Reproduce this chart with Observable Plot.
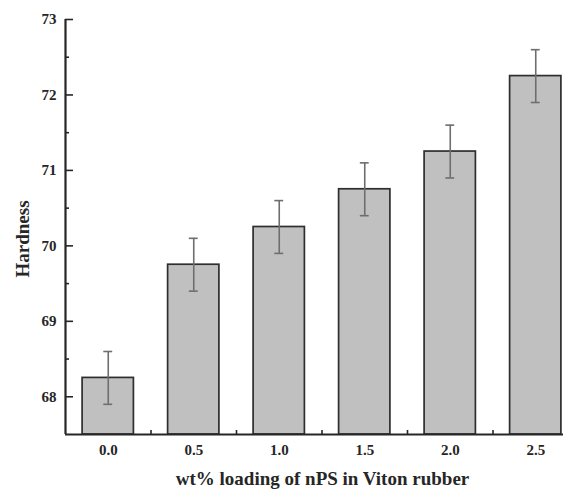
<!DOCTYPE html>
<html><head><meta charset="utf-8">
<script src="https://cdn.jsdelivr.net/npm/d3@7"></script>
<script src="https://cdn.jsdelivr.net/npm/@observablehq/plot@0.6"></script>
<style>body{margin:0;background:#fff} #chart{width:573px;height:490px}</style>
</head><body><div id="chart"></div>
<script>
const loadings = [0.0, 0.5, 1.0, 1.5, 2.0, 2.5];
const hardness = [68.25, 69.75, 70.25, 70.75, 71.25, 72.25];
const errors = [0.35, 0.35, 0.35, 0.35, 0.35, 0.35];
const yMajorTicks = [68, 69, 70, 71, 72, 73];
const yMinorTicks = [68.5, 69.5, 70.5, 71.5, 72.5];
const xMinorTicks = [0.25, 0.75, 1.25, 1.75, 2.25];
const xTitle = "wt% loading of nPS in Viton rubber";
const yTitle = "Hardness";
const yDomain = [67.5, 73];
const xDomain = [-0.25, 2.75];
const barHalf = 0.15, capHalf = 0.026;

const data = loadings.map((x, i) => ({x, y: hardness[i], e: errors[i]}));
const ink = "#262626";

const chart = Plot.plot({
  width: 573, height: 490,
  marginTop: 19, marginBottom: 56, marginLeft: 65, marginRight: 10,
  x: {domain: xDomain, range: [65, 578]},
  y: {domain: yDomain},
  style: {fontFamily: "Liberation Serif", fontWeight: "bold", fontSize: "15px", color: ink, background: "#fff"},
  marks: [
    Plot.rectY(data, {x1: d => d.x - barHalf, x2: d => d.x + barHalf, y1: () => yDomain[0], y2: "y",
      fill: "#c0c0c0", stroke: "#2e2e2e", strokeWidth: 1.7}),
    Plot.ruleX(data, {x: "x", y1: d => d.y - d.e, y2: d => d.y + d.e, stroke: "#6e6e6e", strokeWidth: 1.6}),
    Plot.ruleY(data, {y: d => d.y + d.e, x1: d => d.x - capHalf, x2: d => d.x + capHalf, stroke: "#6e6e6e", strokeWidth: 1.6}),
    Plot.ruleY(data, {y: d => d.y - d.e, x1: d => d.x - capHalf, x2: d => d.x + capHalf, stroke: "#6e6e6e", strokeWidth: 1.6}),
    Plot.axisY(yMajorTicks, {tickSize: -8, tickPadding: 17, tickFormat: d3.format("d"), label: null, stroke: ink, strokeWidth: 1.6, fontSize: 15}),
    Plot.axisY(yMinorTicks, {tickSize: -4, tickFormat: () => "", label: null, stroke: ink, strokeWidth: 1.6}),
    Plot.axisX(loadings, {tickSize: 0, tickPadding: 10, tickFormat: d3.format(".1f"), label: null, fontSize: 15}),
    Plot.axisX(xMinorTicks, {tickSize: -4, tickFormat: () => "", label: null, stroke: ink, strokeWidth: 1.6}),
    Plot.ruleX([xDomain[0]], {stroke: ink, strokeWidth: 2.2}),
    Plot.ruleY([yDomain[0]], {stroke: ink, strokeWidth: 2.2}),
    Plot.text([yTitle], {frameAnchor: "left", textAnchor: "middle", dx: -43, dy: 12, rotate: -90, fontSize: 19, fill: ink}),
    Plot.text([xTitle], {frameAnchor: "bottom", dx: 8, dy: 50, fontSize: 19, fill: ink})
  ]
});
document.getElementById("chart").append(chart);
</script>
</body></html>
